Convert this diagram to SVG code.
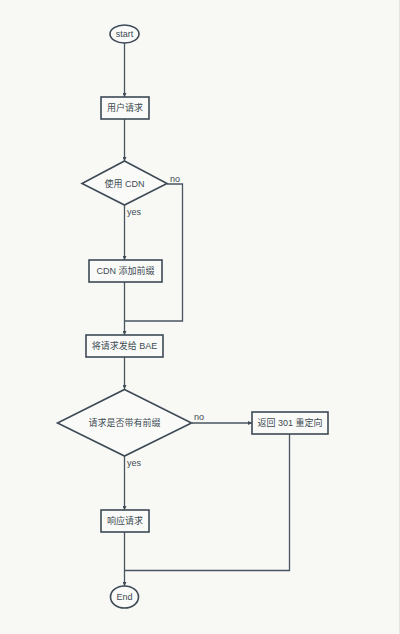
<svg xmlns="http://www.w3.org/2000/svg" width="400" height="634" viewBox="0 0 400 634">
<style>
.n{fill:#fafbf8;stroke:#3e4a56;stroke-width:1.6}
.c{fill:none;stroke:#4a5562;stroke-width:1.3}
text{font-family:"Liberation Sans","Noto Sans CJK SC",sans-serif;font-size:9px;fill:#404a54}
.t{text-anchor:middle;dominant-baseline:central}
</style>
<defs>
<marker id="a" viewBox="0 0 6 6" refX="6" refY="3" markerWidth="4" markerHeight="4" orient="auto" markerUnits="userSpaceOnUse">
<path d="M0,0L6,3L0,6z" fill="#3e4a56"/>
</marker>
</defs>
<rect width="400" height="634" fill="#f8f9f5"/>
<line x1="399.5" y1="0" x2="399.5" y2="634" stroke="#e4e5e1" stroke-width="1"/>
<g id="connectors">
<path class="c" d="M124.5,43V97" marker-end="url(#a)"/>
<path class="c" d="M124.5,119V161" marker-end="url(#a)"/>
<path class="c" d="M124.5,205V260" marker-end="url(#a)"/>
<path class="c" d="M124.5,282V335" marker-end="url(#a)"/>
<path class="c" d="M167,184H182.5V321H124.5"/>
<path class="c" d="M124.5,357V389" marker-end="url(#a)"/>
<path class="c" d="M124.5,456V510" marker-end="url(#a)"/>
<path class="c" d="M192,423H252" marker-end="url(#a)"/>
<path class="c" d="M124.5,532V586" marker-end="url(#a)"/>
<path class="c" d="M289.5,434V570.5H124.5"/>
<text x="170" y="182">no</text>
<text x="127" y="215">yes</text>
<text x="194" y="420">no</text>
<text x="127" y="466">yes</text>
</g>
<g id="start"><ellipse class="n" cx="124.5" cy="34" rx="14.5" ry="9"/><text class="t" x="124.5" y="34">start</text></g>
<g id="userRequest"><rect class="n" x="101" y="97" width="48" height="22"/><text class="t" x="125" y="108">用户请求</text></g>
<g id="useCDN"><path class="n" d="M124.5,161L167,183.5L124.5,205L82,183.5Z"/><text class="t" x="124.5" y="184">使用 CDN</text></g>
<g id="cdnPrefix"><rect class="n" x="89" y="260" width="73" height="22"/><text class="t" x="125.5" y="271">CDN 添加前缀</text></g>
<g id="sendBAE"><rect class="n" x="86" y="335" width="77" height="22"/><text class="t" x="124.5" y="346">将请求发给 BAE</text></g>
<g id="hasPrefix"><path class="n" d="M124.5,389.5L191.5,423L124.5,456L57.5,423Z"/><text class="t" x="124.5" y="423">请求是否带有前缀</text></g>
<g id="redirect"><rect class="n" x="252" y="412" width="76" height="22"/><text class="t" x="290" y="423">返回 301 重定向</text></g>
<g id="respond"><rect class="n" x="101" y="510" width="48" height="22"/><text class="t" x="125" y="521">响应请求</text></g>
<g id="end"><ellipse class="n" cx="124.5" cy="597" rx="14" ry="11"/><text class="t" x="124.5" y="597">End</text></g>
</svg>
